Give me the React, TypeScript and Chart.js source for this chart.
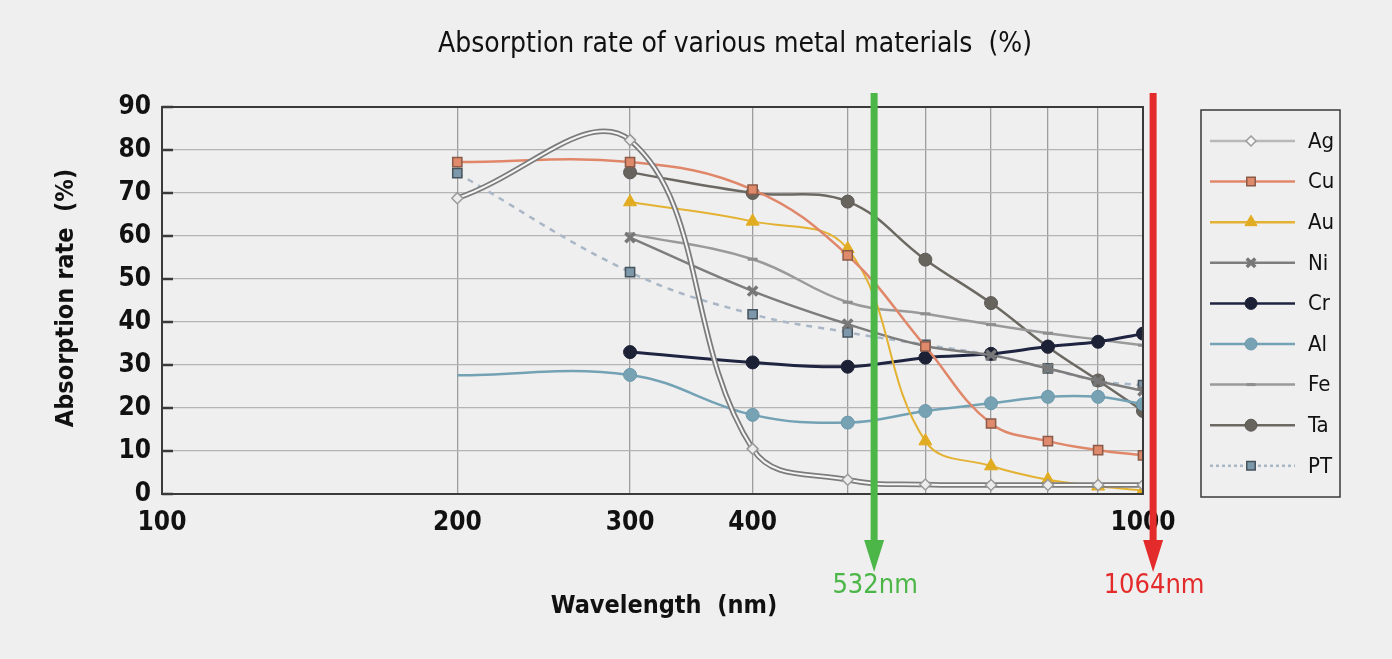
import React, { useEffect, useRef } from 'react';
import { Chart, registerables } from 'chart.js';
import { drawPoint } from 'chart.js/helpers';
Chart.register(...registerables);

// ---- data ----
const wavelengths = [200, 300, 400, 500, 600, 700, 800, 900, 1000];
const agValues = [68.8, 82.3, 10.5, 3.3, 2.2, 2.1, 2.1, 2.1, 2.1];
const cuValues = [77.2, 77.2, 70.8, 55.5, 34.3, 16.4, 12.3, 10.2, 9.0];
const auValues = [null, 67.9, 63.4, 57.0, 12.3, 6.5, 3.3, 1.8, 0.8];
const niValues = [null, 59.6, 47.2, 39.5, 34.4, 32.3, 29.2, 26.3, 24.0];
const crValues = [null, 33.0, 30.6, 29.6, 31.7, 32.6, 34.3, 35.4, 37.3];
const alValues = [27.6, 27.7, 18.4, 16.6, 19.3, 21.1, 22.6, 22.6, 20.9];
const feValues = [null, 60.5, 54.6, 44.6, 41.9, 39.4, 37.4, 35.9, 34.6];
const taValues = [null, 74.8, 70.0, 68.0, 54.5, 44.4, 34.2, 26.4, 19.3];
const ptValues = [74.6, 51.6, 41.8, 37.6, 34.7, 32.3, 29.2, 26.3, 25.3];

const xGridValues = [100, 200, 300, 400, 500, 600, 700, 800, 900, 1000];
const xTickLabels = [100, 200, 300, 400, 1000];
const yTicks = [0, 10, 20, 30, 40, 50, 60, 70, 80, 90];

const chartTitle = 'Absorption rate of various metal materials  (%)';
const xTitle = 'Wavelength  (nm)';
const yTitle = 'Absorption rate  (%)';

// laser lines: label and the wavelength at which the reference draws the arrow
const laserLabels = ['532nm', '1064nm'];
const laserPositions = [532, 1024];
const laserColors = ['#4cb648', '#e32b2b'];

const FONT = '"DejaVu Sans Condensed", "Noto Sans", sans-serif';

type Series = {
  label: string;
  values: (number | null)[];
  line: string;
  fill: string;
  border: string;
  style: string;
  r: number;
  bw: number;
  dash: number[];
  lw: number;
};

const series: Series[] = [
  { label: 'Ag', values: agValues, line: '#b0b0b0', fill: '#ececec', border: '#9a9a9a', style: 'rectRot', r: 5.5, bw: 1.5, dash: [], lw: 2.5 },
  { label: 'Cu', values: cuValues, line: '#e0876a', fill: '#e08a6c', border: '#8c5a48', style: 'rect', r: 6.5, bw: 1.5, dash: [], lw: 2.5 },
  { label: 'Au', values: auValues, line: '#e4b233', fill: '#e2ac22', border: '#e2ac22', style: 'triangle', r: 7.5, bw: 1, dash: [], lw: 2 },
  { label: 'Ni', values: niValues, line: '#7d7d7d', fill: '#7a7a7a', border: '#777777', style: 'crossRot', r: 6.5, bw: 3.5, dash: [], lw: 2.5 },
  { label: 'Cr', values: crValues, line: '#1f2540', fill: '#1c2136', border: '#1c2136', style: 'circle', r: 6.5, bw: 1, dash: [], lw: 3 },
  { label: 'Al', values: alValues, line: '#74a2b5', fill: '#76a2b4', border: '#6a98aa', style: 'circle', r: 6.5, bw: 1, dash: [], lw: 2.5 },
  { label: 'Fe', values: feValues, line: '#9a9a9a', fill: '#9a9a9a', border: '#8e8e8e', style: 'line', r: 5, bw: 3, dash: [], lw: 2.5 },
  { label: 'Ta', values: taValues, line: '#6c6862', fill: '#67635d', border: '#5c5954', style: 'circle', r: 6.5, bw: 1, dash: [], lw: 2.5 },
  { label: 'PT', values: ptValues, line: '#a9b6c6', fill: '#7d98ab', border: '#46535c', style: 'rect', r: 6.5, bw: 1.5, dash: [6, 6], lw: 2.5 },
];

const toPoints = (vals: (number | null)[]) =>
  wavelengths.map((w, i) => ({ x: w, y: vals[i] }));

const decorPlugin = {
  id: 'decor',
  beforeDatasetsDraw(chart: any) {
    const { ctx, chartArea: a, scales } = chart;
    ctx.save();
    ctx.strokeStyle = '#3a3a3a';
    ctx.lineWidth = 2.5;
    yTicks.forEach((t) => {
      const y = scales.y.getPixelForValue(t);
      ctx.beginPath();
      ctx.moveTo(a.left, y);
      ctx.lineTo(a.left + 11, y);
      ctx.stroke();
    });
    ctx.restore();
  },
  afterDraw(chart: any) {
    const { ctx, chartArea: a, scales } = chart;
    ctx.save();
    ctx.strokeStyle = '#3a3a3a';
    ctx.lineWidth = 2;
    ctx.strokeRect(a.left, a.top, a.right - a.left, a.bottom - a.top);

    ctx.fillStyle = '#111';
    ctx.textAlign = 'center';
    ctx.textBaseline = 'middle';
    ctx.font = `28px ${FONT}`;
    ctx.fillText(chartTitle, 735, 45);

    ctx.font = `bold 25px ${FONT}`;
    ctx.fillText(xTitle, 664, 606);
    ctx.save();
    ctx.translate(66, 298);
    ctx.rotate(-Math.PI / 2);
    ctx.fillText(yTitle, 0, 0);
    ctx.restore();

    laserPositions.forEach((pos, i) => {
      const x = scales.x.getPixelForValue(pos);
      const c = laserColors[i];
      ctx.fillStyle = c;
      ctx.fillRect(x - 3.5, 93, 7, 450);
      ctx.beginPath();
      ctx.moveTo(x - 10, 540);
      ctx.lineTo(x + 10, 540);
      ctx.lineTo(x, 572);
      ctx.closePath();
      ctx.fill();
      ctx.font = `27px ${FONT}`;
      ctx.textAlign = 'center';
      ctx.fillText(laserLabels[i], x + 1, 586);
    });

    const lx = a.right + 58;
    const ly = 110;
    ctx.strokeStyle = '#3a3a3a';
    ctx.lineWidth = 1.5;
    ctx.strokeRect(lx, ly, 139, 387);
    series.forEach((s, i) => {
      const cy = ly + 31 + i * 40.6;
      ctx.save();
      ctx.strokeStyle = s.label === 'Ag' ? '#b8b8b8' : s.line;
      ctx.lineWidth = 2.5;
      ctx.setLineDash(s.label === 'PT' ? [3, 3] : []);
      ctx.beginPath();
      ctx.moveTo(lx + 9, cy);
      ctx.lineTo(lx + 94, cy);
      ctx.stroke();
      ctx.restore();
      ctx.fillStyle = s.label === 'Ag' ? '#f6f6f6' : s.fill;
      ctx.strokeStyle = s.border;
      ctx.lineWidth = s.bw;
      drawPoint(ctx, { pointStyle: s.style, radius: s.r - 0.5, borderWidth: s.bw, rotation: 0 } as any, lx + 50, cy);
      ctx.fillStyle = '#111';
      ctx.textAlign = 'left';
      ctx.textBaseline = 'middle';
      ctx.font = `22px ${FONT}`;
      ctx.fillText(s.label, lx + 107, cy + 1);
    });
    ctx.restore();
  },
};

export default function App() {
  const canvasRef = useRef<HTMLCanvasElement | null>(null);

  useEffect(() => {
    if (!canvasRef.current) return;
    const datasets: any[] = [];
    series.forEach((s) => {
      const base = {
        data: toPoints(s.values),
        tension: 0.4,
        fill: false,
        spanGaps: false,
      };
      if (s.label === 'Ag') {
        datasets.push({
          ...base,
          label: 'Ag',
          borderColor: '#f6f6f6',
          borderWidth: 2,
          pointStyle: s.style,
          pointRadius: s.r,
          pointBackgroundColor: s.fill,
          pointBorderColor: s.border,
          pointBorderWidth: s.bw,
        });
        datasets.push({
          ...base,
          label: 'Ag-outline',
          borderColor: '#7c7c7c',
          borderWidth: 5.5,
          pointRadius: 0,
        });
        return;
      }
      datasets.push({
        ...base,
        label: s.label,
        borderColor: s.line,
        borderWidth: s.lw,
        borderDash: s.dash,
        pointStyle: s.style,
        pointRadius: s.label === 'Al' ? s.values.map((_, i) => (i === 0 ? 0 : s.r)) : s.r,
        pointBackgroundColor: s.fill,
        pointBorderColor: s.border,
        pointBorderWidth: s.bw,
      });
    });

    const chart = new Chart(canvasRef.current, {
      type: 'line',
      data: { datasets },
      plugins: [decorPlugin],
      options: {
        animation: false,
        responsive: true,
        maintainAspectRatio: false,
        layout: { padding: { top: 107, right: 249, left: 0, bottom: 0 } },
        plugins: { legend: { display: false }, tooltip: { enabled: false }, title: { display: false } },
        scales: {
          x: {
            type: 'logarithmic',
            min: 100,
            max: 1000,
            border: { display: false },
            grid: { color: '#9d9d9d', lineWidth: 1.3, drawTicks: false },
            afterBuildTicks: (s: any) => {
              s.ticks = xGridValues.map((v) => ({ value: v }));
            },
            afterFit: (s: any) => {
              s.height = 165;
            },
            ticks: {
              autoSkip: false,
              maxRotation: 0,
              padding: 14,
              color: '#111',
              font: { family: FONT, size: 26, weight: 'bold' },
              callback: (v: any) => (xTickLabels.includes(Number(v)) ? String(v) : ''),
            },
          },
          y: {
            min: 0,
            max: 90,
            border: { display: false },
            grid: { color: '#b4b4b4', lineWidth: 1.3, drawTicks: false },
            afterFit: (s: any) => {
              s.width = 162;
            },
            ticks: {
              stepSize: 10,
              padding: 11,
              color: '#111',
              font: { family: FONT, size: 26, weight: 'bold' },
            },
          },
        },
      } as any,
    });
    return () => chart.destroy();
  }, []);

  return (
    <div style={{ position: 'fixed', left: 0, top: 0, width: 1392, height: 659, background: '#efefef' }}>
      <canvas ref={canvasRef} />
    </div>
  );
}
